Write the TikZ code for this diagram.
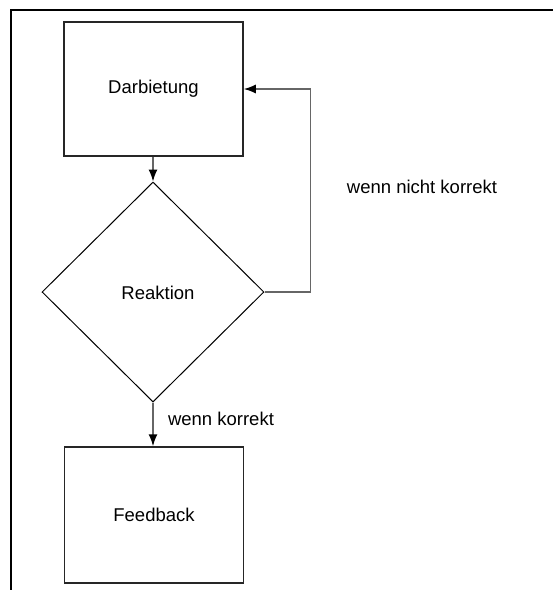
\documentclass[tikz,border=0pt]{standalone}
\usepackage{fontspec}
\setmainfont{Liberation Sans}
\usetikzlibrary{arrows.meta,shapes.geometric}

\begin{document}
\begin{tikzpicture}[x=1pt,y=-1pt,
	stepbox/.style={rectangle,draw,line width=1.5pt,color=black!85,text=black,inner sep=0pt,font=\fontsize{18.5}{22}\selectfont},
	decide/.style={diamond,draw,line width=1pt,color=black,inner sep=0pt},
	conn/.style={line width=1.5pt,color=black!60,-{Latex[length=12pt,width=9pt,color=black]}},
	lbl/.style={font=\fontsize{18.5}{22}\selectfont,inner sep=0pt}]
	\useasboundingbox (0,0) rectangle (553,590);
	% frame (open at right and bottom)
	\draw [line width=2pt,color=black] (11,590)--(11,9.5)--(553,9.5);

	\node (darb) [stepbox,minimum width=179pt,minimum height=134pt] at (153.5,89) {Darbietung};
	\node (reak) [decide,minimum width=222pt,minimum height=220pt] at (153,292) {};
	\node (feed) [stepbox,minimum width=179pt,minimum height=136pt] at (154,515) {Feedback};

	\node (reakt) [lbl] at (158,293) {Reaktion};

	\draw [conn] (darb.south -| reak.north) -- (reak.north);
	\draw [conn] (reak.east) -- ++(46,0) |- (darb.east);
	\draw [conn] (reak.south) -- (feed.north -| reak.south);

	\node (nein) [lbl] at (422,187) {wenn nicht korrekt};
	\node (ja) [lbl] at (221,419) {wenn korrekt};
\end{tikzpicture}
\end{document}
